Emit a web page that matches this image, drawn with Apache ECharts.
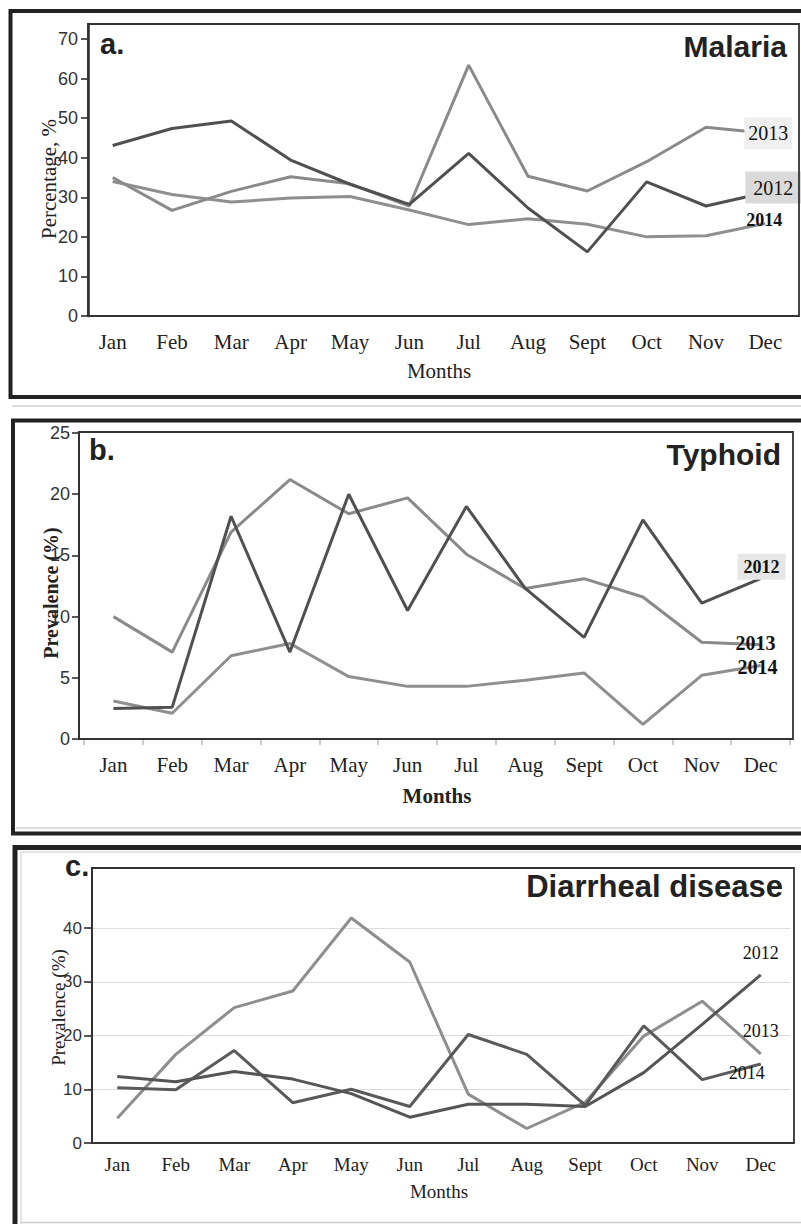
<!DOCTYPE html>
<html><head><meta charset="utf-8">
<script src="https://cdn.jsdelivr.net/npm/echarts@6/dist/echarts.min.js"></script>
<style>html,body{margin:0;padding:0;background:#fff}#c{width:801px;height:1224px}</style>
</head><body><div id="c"></div>
<script>
// ---- data ----
const months = ['Jan','Feb','Mar','Apr','May','Jun','Jul','Aug','Sept','Oct','Nov','Dec'];
const years = ['2012','2013','2014'];

const malaria2012 = [43.1, 47.4, 49.3, 39.4, 33.3, 28.2, 41.1, 27.3, 16.2, 33.9, 27.8, 31.2];
const malaria2013 = [35.0, 26.7, 31.5, 35.2, 33.4, 27.8, 63.4, 35.3, 31.6, 39.0, 47.7, 46.2];
const malaria2014 = [34.0, 30.7, 28.8, 29.8, 30.2, 26.8, 23.1, 24.6, 23.2, 20.0, 20.3, 23.4];

const typhoid2012 = [2.5, 2.6, 18.2, 7.1, 20.0, 10.5, 19.0, 12.3, 8.3, 17.9, 11.1, 13.1];
const typhoid2013 = [10.0, 7.1, 16.9, 21.2, 18.4, 19.7, 15.1, 12.3, 13.1, 11.6, 7.9, 7.7];
const typhoid2014 = [3.1, 2.1, 6.8, 7.8, 5.1, 4.3, 4.3, 4.8, 5.4, 1.2, 5.2, 6.0];

const diarrhea2012 = [12.4, 11.4, 13.3, 11.9, 9.2, 4.8, 7.2, 7.2, 6.8, 13.1, 22.1, 31.3];
const diarrhea2013 = [4.6, 16.5, 25.2, 28.3, 41.9, 33.7, 9.1, 2.7, 7.6, 19.9, 26.4, 16.6];
const diarrhea2014 = [10.3, 9.9, 17.2, 7.5, 10.0, 6.8, 20.2, 16.5, 7.0, 21.8, 11.8, 14.7];

const malariaTicks = [0, 10, 20, 30, 40, 50, 60, 70];
const typhoidTicks = [0, 5, 10, 15, 20, 25];
const diarrheaTicks = [0, 10, 20, 30, 40];

const panelTitles = ['Malaria', 'Typhoid', 'Diarrheal disease'];
const panelLetters = ['a.', 'b.', 'c.'];
const yNames = ['Percentage, %', 'Prevalence (%)', 'Prevalence (%)'];
const xName = 'Months';

// ---- styling helpers ----
const SERIF = 'Liberation Serif';
const SANS = 'Liberation Sans';
const DARK = '#505050', GRAY = '#8a8a8a', GRAY2 = '#8f8f8f';

function endMark(values, text, lab) {
  const last = values.length - 1;
  return {
    symbol: 'circle', symbolSize: 2, silent: true,
    itemStyle: { color: 'rgba(0,0,0,0)' },
    data: [{
      coord: [months[last], values[last]],
      label: Object.assign({ show: true, formatter: text, position: 'inside',
        fontFamily: SERIF, color: '#111' }, lab)
    }]
  };
}
function line(idx, values, color, markPoint, z) {
  return {
    type: 'line', xAxisIndex: idx, yAxisIndex: idx, data: values,
    symbol: 'none', showSymbol: false, silent: true, z: z || 2,
    lineStyle: { color: color, width: 3 }, itemStyle: { color: color },
    markPoint: markPoint
  };
}
function xAxis(idx, o) {
  return {
    type: 'category', gridIndex: idx, data: months, boundaryGap: true,
    axisLine: { show: false },
    axisTick: { show: !!o.ticks, length: 6, lineStyle: { color: '#bbb', width: 1.5 } },
    axisLabel: { interval: 0, fontFamily: SERIF, fontSize: o.fs, color: '#222', margin: o.margin },
    splitLine: { show: false },
    name: xName, nameLocation: 'middle', nameGap: o.nameGap, nameMoveOverlap: false,
    nameTextStyle: { fontFamily: SERIF, fontSize: o.nameFs, fontWeight: o.bold ? 'bold' : 'normal', color: '#222' }
  };
}
function yAxis(idx, ticks, o) {
  return {
    type: 'value', gridIndex: idx, min: 0, max: o.max, interval: o.interval, offset: o.offset,
    axisLine: { show: true, lineStyle: { color: '#222', width: o.axisW } },
    axisTick: { show: true, length: o.tickLen, customValues: ticks, lineStyle: { color: '#222', width: 1.5 } },
    axisLabel: { customValues: ticks, fontFamily: SANS, fontSize: o.fs, color: '#333', margin: o.margin },
    splitLine: { show: !!o.split, lineStyle: { color: '#dcdcdc', width: 1 } },
    name: yNames[idx], nameLocation: 'middle', nameGap: o.nameGap, nameMoveOverlap: false,
    nameTextStyle: { fontFamily: SERIF, fontSize: o.nameFs, fontWeight: o.bold ? 'bold' : 'normal', color: '#222',
      padding: [0, o.shift || 0, 0, 0] }
  };
}

const chart = echarts.init(document.getElementById('c'), null, { renderer: 'svg', width: 801, height: 1224 });

const option = {
  animation: false,
  backgroundColor: '#fff',
  grid: [
    { left: 83, right: 6, top: 24, bottom: 1224 - 316 },
    { left: 84, right: 11, top: 433, bottom: 1224 - 739 },
    { left: 88, right: 11, top: 868, bottom: 1224 - 1143 }
  ],
  xAxis: [
    xAxis(0, { fs: 21, margin: 15, nameGap: 44, nameFs: 21 }),
    xAxis(1, { fs: 21, margin: 15, nameGap: 46, nameFs: 21, bold: true, ticks: true }),
    xAxis(2, { fs: 19, margin: 12, nameGap: 39, nameFs: 19 })
  ],
  yAxis: [
    yAxis(0, malariaTicks, { max: 73.8, interval: 10, offset: -5, axisW: 2.5, tickLen: 7, fs: 18, margin: 10, nameGap: 29, nameFs: 21, shift: 18 }),
    yAxis(1, typhoidTicks, { max: 25, interval: 5, offset: 5, axisW: 2, tickLen: 7, fs: 18, margin: 9, nameGap: 18, nameFs: 20, bold: true, shift: 14 }),
    yAxis(2, diarrheaTicks, { max: 51.2, interval: 10, offset: -4, axisW: 2, tickLen: 8, fs: 17, margin: 10, nameGap: 24, nameFs: 19, split: true, shift: 4 })
  ],
  series: [
    line(0, malaria2014, GRAY2, endMark(malaria2014, years[2], { fontSize: 18, fontWeight: 'bold', offset: [-1, -3] }), 2),
    line(0, malaria2013, GRAY, endMark(malaria2013, years[1], { fontSize: 20, backgroundColor: '#efefef', padding: [6, 4], offset: [3, 0] }), 3),
    line(0, malaria2012, DARK, endMark(malaria2012, years[0], { fontSize: 20, backgroundColor: '#dadada', padding: [6, 8], offset: [8, -5] }), 4),

    line(1, typhoid2014, GRAY2, endMark(typhoid2014, years[2], { fontSize: 20, fontWeight: 'bold', offset: [-3, 1] }), 2),
    line(1, typhoid2013, GRAY, endMark(typhoid2013, years[1], { fontSize: 20, fontWeight: 'bold', offset: [-5, -2] }), 3),
    line(1, typhoid2012, DARK, endMark(typhoid2012, years[0], { fontSize: 18, fontWeight: 'bold', backgroundColor: '#e6e6e6', padding: [4, 6], offset: [1, -12] }), 4),

    line(2, diarrhea2014, '#5a5a5a', endMark(diarrhea2014, years[2], { fontSize: 18, offset: [-14, 9] }), 3),
    line(2, diarrhea2013, '#8e8e8e', endMark(diarrhea2013, years[1], { fontSize: 18, offset: [0, -23] }), 2),
    line(2, diarrhea2012, '#555555', endMark(diarrhea2012, years[0], { fontSize: 18, offset: [0, -22] }), 4)
  ],
  graphic: [
    // outer panel frames
    { type: 'rect', silent: true, z: 50, shape: { x: 10.5, y: 11, width: 800, height: 386 }, style: { fill: 'none', stroke: '#222', lineWidth: 4 } },
    { type: 'line', silent: true, z: 50, shape: { x1: 12, y1: 406, x2: 801, y2: 406 }, style: { stroke: '#cfcfcf', lineWidth: 1.5 } },
    { type: 'rect', silent: true, z: 50, shape: { x: 13, y: 420.5, width: 800, height: 413 }, style: { fill: 'none', stroke: '#222', lineWidth: 4 } },
    { type: 'line', silent: true, z: 50, shape: { x1: 16, y1: 828, x2: 801, y2: 828 }, style: { stroke: '#cfcfcf', lineWidth: 1.5 } },
    { type: 'rect', silent: true, z: 50, shape: { x: 15, y: 847.5, width: 800, height: 400 }, style: { fill: 'none', stroke: '#222', lineWidth: 5 } },
    { type: 'line', silent: true, z: 50, shape: { x1: 21, y1: 852, x2: 801, y2: 852 }, style: { stroke: '#dddddd', lineWidth: 1.5 } },
    { type: 'line', silent: true, z: 50, shape: { x1: 21, y1: 852, x2: 21, y2: 1224 }, style: { stroke: '#dddddd', lineWidth: 1.5 } },
    { type: 'line', silent: true, z: 50, shape: { x1: 21, y1: 1222.5, x2: 801, y2: 1222.5 }, style: { stroke: '#cccccc', lineWidth: 1.5 } },
    // inner plot boxes
    { type: 'rect', silent: true, z: 50, shape: { x: 88, y: 24, width: 711, height: 292 }, style: { fill: 'none', stroke: '#333', lineWidth: 1.8 } },
    { type: 'rect', silent: true, z: 50, shape: { x: 79, y: 432, width: 714, height: 307 }, style: { fill: 'none', stroke: '#333', lineWidth: 1.8 } },
    { type: 'rect', silent: true, z: 50, shape: { x: 92, y: 868, width: 702, height: 275 }, style: { fill: 'none', stroke: '#333', lineWidth: 1.8 } },
    // panel letters
    { type: 'text', silent: true, z: 60, x: 100, y: 44, style: { text: panelLetters[0], fontFamily: SANS, fontWeight: 'bold', fontSize: 29, fill: '#222', verticalAlign: 'middle' } },
    { type: 'text', silent: true, z: 60, x: 89, y: 450, style: { text: panelLetters[1], fontFamily: SANS, fontWeight: 'bold', fontSize: 29, fill: '#222', verticalAlign: 'middle' } },
    { type: 'text', silent: true, z: 60, x: 65, y: 866, style: { text: panelLetters[2], fontFamily: SANS, fontWeight: 'bold', fontSize: 29, fill: '#222', verticalAlign: 'middle' } },
    // disease titles
    { type: 'text', silent: true, z: 60, x: 787, y: 46, style: { text: panelTitles[0], fontFamily: SANS, fontWeight: 'bold', fontSize: 30, fill: '#222', align: 'right', verticalAlign: 'middle' } },
    { type: 'text', silent: true, z: 60, x: 781, y: 454, style: { text: panelTitles[1], fontFamily: SANS, fontWeight: 'bold', fontSize: 30, fill: '#222', align: 'right', verticalAlign: 'middle' } },
    { type: 'text', silent: true, z: 60, x: 783, y: 886, style: { text: panelTitles[2], fontFamily: SANS, fontWeight: 'bold', fontSize: 31, fill: '#222', align: 'right', verticalAlign: 'middle' } }
  ]
};
chart.setOption(option);
</script>
</body></html>
